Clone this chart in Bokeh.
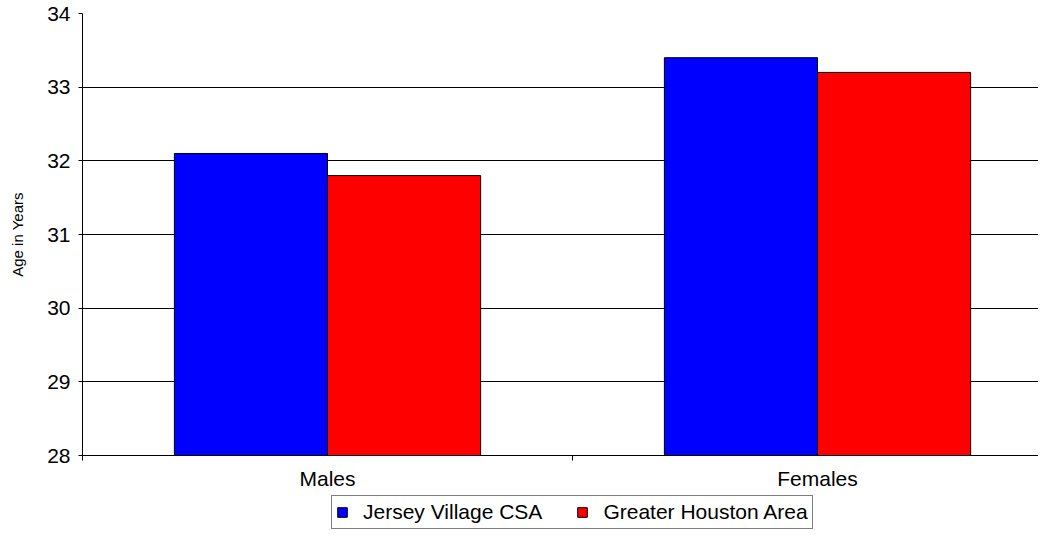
from bokeh.plotting import figure
from bokeh.models import Range1d, FixedTicker, Legend, LegendItem, ColumnDataSource
from bokeh.layouts import column
from bokeh.embed import file_html
from bokeh.resources import INLINE

categories = ["Males", "Females"]
series_names = ["Jersey Village CSA", "Greater Houston Area"]
jersey_village = [32.1, 33.4]
greater_houston = [31.8, 33.2]
y_ticks = [28, 29, 30, 31, 32, 33, 34]
colors = ["#0000FF", "#FF0000"]

FONT = "Liberation Sans"
CAT_PX = 490.0
W = 1038
LEFT = 82
H1 = 492
H2 = 40

centers = [i + 0.5 for i in range(len(categories))]
bar_w = 0.3125

p = figure(width=W, height=H1, output_backend="svg", toolbar_location=None,
           x_range=Range1d(0, (W - LEFT) / CAT_PX), y_range=Range1d(28, 34),
           min_border_left=LEFT, min_border_right=0, min_border_top=13,
           min_border_bottom=0)
p.outline_line_color = None
p.background_fill_color = "white"
p.border_fill_color = "white"

sources = []
for k, (vals, col) in enumerate([(jersey_village, colors[0]), (greater_houston, colors[1])]):
    off = (k - 0.5) * bar_w
    src = ColumnDataSource(dict(x=[c + off for c in centers], top=vals))
    sources.append(src)
    p.vbar(x="x", top="top", bottom=28, width=bar_w, source=src,
           fill_color=col, line_color="black", line_width=1)

# x axis
xa = p.xaxis[0]
xa.ticker = FixedTicker(ticks=centers, minor_ticks=[0, 1, 2])
xa.major_label_overrides = {c: n for c, n in zip(centers, categories)}
xa.major_tick_line_color = None
xa.major_tick_out = 0
xa.major_tick_in = 0
xa.minor_tick_out = 5
xa.minor_tick_in = 0
xa.minor_tick_line_color = "black"
xa.axis_line_color = "black"
xa.major_label_text_font = FONT
xa.major_label_text_font_size = "21px"
xa.major_label_text_color = "black"
xa.major_label_standoff = 6

ya = p.yaxis[0]
ya.ticker = FixedTicker(ticks=y_ticks, minor_ticks=[])
ya.major_tick_out = 4
ya.major_tick_in = 0
ya.major_tick_line_color = "black"
ya.axis_line_color = "black"
ya.major_label_text_font = FONT
ya.major_label_text_font_size = "21px"
ya.major_label_text_color = "black"
ya.major_label_standoff = 8
ya.axis_label = "Age in Years"
ya.axis_label_text_font = FONT
ya.axis_label_text_font_size = "15px"
ya.axis_label_text_font_style = "normal"
ya.axis_label_text_color = "black"
ya.axis_label_standoff = 18

p.xgrid.grid_line_color = None
p.ygrid.grid_line_color = "black"
p.ygrid.grid_line_width = 1
p.ygrid.ticker = FixedTicker(ticks=y_ticks)

# legend strip (frame is aligned with the chart frame by the column layout);
# its bars use the same data but lie just below this strip's visible range
q = figure(width=W, height=H2, output_backend="svg", toolbar_location=None,
           x_range=Range1d(0, 1), y_range=Range1d(34, 35),
           min_border_left=0, min_border_right=0, min_border_top=0, min_border_bottom=0)
q.axis.visible = False
q.grid.visible = False
q.outline_line_color = None
q.border_fill_color = "white"
q.background_fill_color = "white"
leg_renderers = [q.vbar(x="x", top="top", bottom=28, width=bar_w, source=s,
                        fill_color=c, line_color="black", line_width=1)
                 for s, c in zip(sources, colors)]

legend = Legend(items=[LegendItem(label=n, renderers=[r], index=0) for n, r in zip(series_names, leg_renderers)],
                orientation="horizontal", location=(249, 3),
                glyph_width=12, glyph_height=12, label_standoff=15, spacing=34,
                padding=4, margin=0,
                border_line_color="black", border_line_width=1,
                background_fill_color="white", background_fill_alpha=1,
                label_text_font=FONT, label_text_font_size="21px", label_text_color="black")
q.add_layout(legend)

layout = column(p, q, spacing=0)
open("out.html", "w").write(file_html(layout, INLINE))
